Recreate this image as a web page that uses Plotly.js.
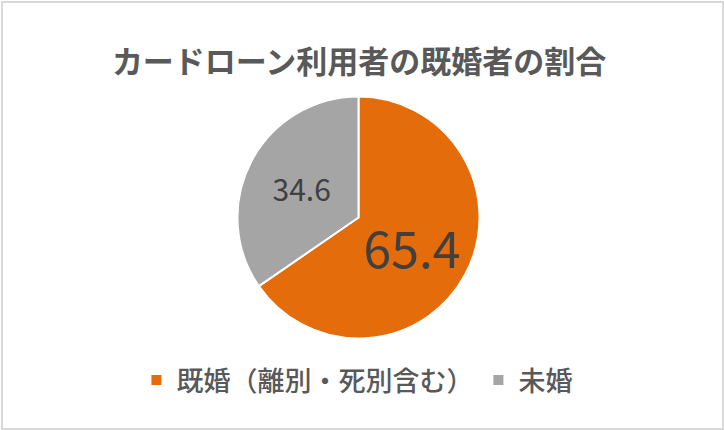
<!DOCTYPE html>
<html>
<head>
<meta charset="utf-8">
<script src="https://cdn.plot.ly/plotly-3.0.1.min.js"></script>
<style>
  body { margin: 0; background: #fff; }
  #wrap { position: relative; width: 724px; height: 430px; }
  #frame { position: absolute; left: 1px; top: 1px; width: 719px; height: 425px;
           border: 2px solid #d9d9d9; pointer-events: none; }
</style>
</head>
<body>
<div id="wrap">
  <div id="chart" style="width:724px;height:430px;"></div>
  <div id="frame"></div>
</div>
<script>
// data
var categories = ["既婚（離別・死別含む）", "未婚"];
var shares = [65.4, 34.6];
var sliceColors = ["#E46C0A", "#A5A5A5"];

var data = [
  {
    type: "pie",
    labels: categories,
    values: shares,
    text: shares.map(function (v) { return v.toFixed(1); }),
    textinfo: "text",
    textposition: "inside",
    insidetextorientation: "horizontal",
    sort: false,
    direction: "clockwise",
    rotation: 0,
    hoverinfo: "label+value",
    marker: {
      colors: sliceColors,
      line: { color: "#ffffff", width: 2 },
    },
    textfont: {
      family: "Noto Sans CJK JP, Noto Sans, sans-serif",
      color: "#404040",
      size: [50, 30],
    },
    domain: { x: [0.3266, 0.6637], y: [0.2128, 0.7756] },
  },
];

var layout = {
  width: 724,
  height: 430,
  margin: { l: 0, r: 0, t: 0, b: 0 },
  paper_bgcolor: "#ffffff",
  title: {
    text: "<b>カードローン利用者の既婚者の割合</b>",
    font: { family: "Noto Sans CJK JP, sans-serif", size: 31, color: "#595959" },
    x: 0.496,
    xanchor: "center",
    y: 0.855,
    yanchor: "middle",
  },
  showlegend: true,
  legend: {
    orientation: "h",
    x: 0.493,
    xanchor: "center",
    y: 0.115,
    yanchor: "middle",
    font: { family: "Noto Sans CJK JP, sans-serif", size: 27, color: "#595959", weight: 500 },
    itemwidth: 30,
    traceorder: "normal",
  },
};

Plotly.newPlot("chart", data, layout, { displayModeBar: false });
</script>
</body>
</html>
